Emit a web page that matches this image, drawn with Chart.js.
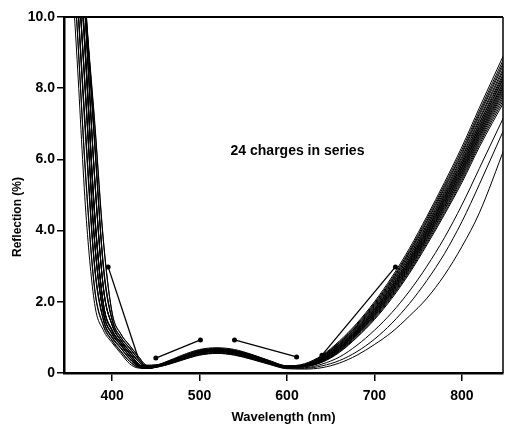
<!DOCTYPE html>
<html>
<head>
<meta charset="utf-8">
<script src="https://cdn.jsdelivr.net/npm/chart.js@4"></script>
<style>
  html, body { margin: 0; padding: 0; background: #fff; }
  canvas { display: block; }
</style>
</head>
<body>
<canvas id="reflection-chart" width="507" height="427"></canvas>
<script>
// wavelengths (nm) shared by all 24 charges
const wavelengths = [350, 360, 370, 380, 390, 400, 410, 420, 430, 440,
  460, 480, 500, 520, 540, 560, 580, 600, 620,
  640, 660, 680, 700, 720, 740, 760, 780, 800, 820, 850];

// reflection (%) of each charge
const c1 = [12.8, 8.8, 4.5, 1.95, 1.2, 0.85, 0.55, 0.26, 0.14, 0.13, 0.22, 0.38, 0.52, 0.57, 0.53, 0.41, 0.27, 0.15, 0.19, 0.40, 0.74, 1.20, 1.75, 2.40, 3.15, 4.00, 4.90, 5.85, 6.90, 8.38];
const c2 = [13.9, 9.75, 5.5, 2.4, 1.35, 0.92, 0.62, 0.33, 0.16, 0.13, 0.24, 0.41, 0.56, 0.61, 0.56, 0.44, 0.29, 0.17, 0.23, 0.46, 0.84, 1.32, 1.90, 2.58, 3.36, 4.24, 5.17, 6.15, 7.23, 8.78];
const c3 = [13.8, 9.7, 5.4, 2.35, 1.32, 0.9, 0.6, 0.32, 0.16, 0.14, 0.25, 0.43, 0.58, 0.63, 0.58, 0.46, 0.31, 0.17, 0.18, 0.32, 0.62, 1.05, 1.56, 2.17, 2.88, 3.70, 4.56, 5.47, 6.48, 7.86];
const c4 = [15.0, 10.7, 6.6, 3.0, 1.5, 1.0, 0.7, 0.4, 0.18, 0.13, 0.26, 0.44, 0.6, 0.65, 0.6, 0.47, 0.31, 0.18, 0.22, 0.42, 0.78, 1.25, 1.81, 2.47, 3.23, 4.10, 5.01, 5.97, 7.03, 8.54];
const c5 = [15.1, 10.8, 6.7, 3.05, 1.52, 1.02, 0.71, 0.41, 0.19, 0.14, 0.25, 0.42, 0.57, 0.62, 0.57, 0.45, 0.3, 0.17, 0.2, 0.36, 0.68, 1.12, 1.65, 2.28, 3.01, 3.84, 4.72, 5.65, 6.68, 8.11];
const c6 = [14.9, 10.6, 6.5, 2.95, 1.48, 0.98, 0.69, 0.39, 0.18, 0.13, 0.21, 0.36, 0.5, 0.55, 0.5, 0.38, 0.24, 0.12, 0.11, 0.15, 0.28, 0.5, 0.8, 1.15, 1.6, 2.1, 2.75, 3.55, 4.5, 6.4];
const c7 = [16.1, 11.75, 7.7, 3.7, 1.7, 1.1, 0.78, 0.47, 0.21, 0.14, 0.27, 0.45, 0.61, 0.66, 0.61, 0.48, 0.32, 0.19, 0.24, 0.48, 0.87, 1.37, 1.96, 2.65, 3.44, 4.34, 5.28, 6.27, 7.36, 8.94];
const c8 = [16.0, 11.7, 7.6, 3.65, 1.68, 1.08, 0.77, 0.46, 0.2, 0.13, 0.24, 0.41, 0.56, 0.61, 0.56, 0.44, 0.29, 0.16, 0.2, 0.38, 0.70, 1.15, 1.69, 2.33, 3.07, 3.90, 4.79, 5.73, 6.77, 8.21];
const c9 = [16.2, 11.8, 7.75, 3.75, 1.72, 1.12, 0.79, 0.48, 0.22, 0.14, 0.28, 0.47, 0.63, 0.68, 0.63, 0.5, 0.33, 0.19, 0.23, 0.45, 0.81, 1.29, 1.87, 2.54, 3.31, 4.18, 5.11, 6.08, 7.15, 8.69];
const c10 = [16.1, 11.7, 7.65, 3.7, 1.7, 1.1, 0.78, 0.47, 0.21, 0.14, 0.23, 0.39, 0.53, 0.58, 0.53, 0.41, 0.27, 0.15, 0.15, 0.25, 0.45, 0.78, 1.2, 1.7, 2.3, 3.0, 3.8, 4.72, 5.75, 7.3];
const c11 = [17.2, 12.8, 8.8, 4.5, 1.95, 1.2, 0.85, 0.55, 0.26, 0.14, 0.26, 0.44, 0.6, 0.65, 0.6, 0.47, 0.31, 0.18, 0.23, 0.47, 0.85, 1.34, 1.93, 2.61, 3.40, 4.28, 5.22, 6.20, 7.29, 8.85];
const c12 = [17.1, 12.7, 8.7, 4.45, 1.93, 1.19, 0.84, 0.54, 0.25, 0.15, 0.27, 0.45, 0.61, 0.66, 0.61, 0.48, 0.32, 0.18, 0.21, 0.39, 0.72, 1.18, 1.73, 2.37, 3.12, 3.96, 4.86, 5.80, 6.85, 8.31];
const c13 = [17.3, 12.9, 8.9, 4.55, 1.97, 1.22, 0.86, 0.56, 0.27, 0.15, 0.25, 0.42, 0.57, 0.62, 0.57, 0.45, 0.3, 0.17, 0.19, 0.34, 0.65, 1.09, 1.61, 2.23, 2.95, 3.78, 4.65, 5.57, 6.59, 8.00];
const c14 = [17.2, 12.75, 8.75, 4.5, 1.94, 1.2, 0.85, 0.55, 0.26, 0.14, 0.29, 0.48, 0.64, 0.69, 0.64, 0.51, 0.34, 0.2, 0.22, 0.42, 0.77, 1.23, 1.79, 2.45, 3.21, 4.06, 4.97, 5.93, 6.99, 8.48];
const c15 = [17.0, 12.6, 8.6, 4.4, 1.9, 1.18, 0.83, 0.53, 0.25, 0.14, 0.22, 0.37, 0.51, 0.56, 0.51, 0.39, 0.25, 0.13, 0.13, 0.2, 0.35, 0.6, 0.95, 1.4, 1.95, 2.6, 3.35, 4.25, 5.3, 6.95];
const c16 = [18.3, 13.9, 9.75, 5.5, 2.4, 1.35, 0.92, 0.62, 0.33, 0.16, 0.27, 0.45, 0.61, 0.66, 0.61, 0.48, 0.32, 0.18, 0.22, 0.44, 0.80, 1.27, 1.84, 2.51, 3.28, 4.14, 5.06, 6.03, 7.10, 8.62];
const c17 = [18.2, 13.8, 9.7, 5.45, 2.38, 1.34, 0.91, 0.61, 0.32, 0.17, 0.26, 0.43, 0.58, 0.63, 0.58, 0.46, 0.31, 0.17, 0.2, 0.37, 0.69, 1.14, 1.67, 2.30, 3.04, 3.87, 4.76, 5.69, 6.72, 8.16];
const c18 = [18.4, 14.0, 9.8, 5.55, 2.42, 1.36, 0.93, 0.63, 0.34, 0.17, 0.24, 0.4, 0.55, 0.6, 0.55, 0.43, 0.28, 0.16, 0.18, 0.31, 0.60, 1.02, 1.53, 2.14, 2.84, 3.65, 4.50, 5.41, 6.42, 7.78];
const c19 = [18.3, 13.85, 9.72, 5.5, 2.4, 1.35, 0.92, 0.62, 0.33, 0.16, 0.3, 0.5, 0.66, 0.71, 0.66, 0.52, 0.35, 0.2, 0.22, 0.41, 0.75, 1.21, 1.77, 2.42, 3.17, 4.02, 4.93, 5.88, 6.93, 8.42];
const c20 = [17.6, 14.0, 10.2, 6.5, 3.0, 1.5, 1.0, 0.7, 0.4, 0.18, 0.28, 0.46, 0.62, 0.67, 0.62, 0.5, 0.34, 0.2, 0.26, 0.50, 0.90, 1.40, 2.00, 2.70, 3.50, 4.40, 5.35, 6.35, 7.45, 9.05];
const c21 = [17.5, 13.9, 10.1, 6.4, 2.95, 1.48, 0.99, 0.69, 0.39, 0.18, 0.26, 0.44, 0.59, 0.64, 0.59, 0.47, 0.31, 0.18, 0.2, 0.35, 0.66, 1.10, 1.63, 2.26, 2.98, 3.81, 4.68, 5.61, 6.64, 8.05];
const c22 = [17.7, 14.1, 10.3, 6.6, 3.05, 1.52, 1.01, 0.71, 0.41, 0.19, 0.27, 0.45, 0.6, 0.65, 0.6, 0.48, 0.32, 0.18, 0.21, 0.38, 0.71, 1.17, 1.71, 2.35, 3.09, 3.94, 4.83, 5.77, 6.81, 8.27];
const c23 = [16.6, 13.3, 10.1, 7.1, 3.75, 1.7, 1.1, 0.78, 0.47, 0.21, 0.26, 0.43, 0.58, 0.63, 0.58, 0.46, 0.31, 0.17, 0.19, 0.33, 0.63, 1.07, 1.59, 2.20, 2.92, 3.74, 4.60, 5.52, 6.54, 7.93];
const c24 = [16.5, 13.2, 10.0, 7.0, 3.7, 1.68, 1.09, 0.77, 0.46, 0.22, 0.27, 0.44, 0.59, 0.64, 0.59, 0.47, 0.31, 0.17, 0.18, 0.30, 0.58, 1.00, 1.50, 2.10, 2.80, 3.60, 4.45, 5.35, 6.35, 7.70];

const charges = [c1, c2, c3, c4, c5, c6, c7, c8, c9, c10, c11, c12,
  c13, c14, c15, c16, c17, c18, c19, c20, c21, c22, c23, c24];

// pointer lines drawn on the plot: [wavelength, reflection] end points
const pointerLeft = [[395.5, 2.98], [429.5, 0.45]];
const pointerBumpUp = [[450, 0.42], [501, 0.93]];
const pointerBumpDown = [[540, 0.93], [611, 0.45]];
const pointerRight = [[640, 0.5], [724, 2.98]];

const xTicks = [400, 500, 600, 700, 800];
const yTicks = [0, 2, 4, 6, 8, 10];

const noteText = '24 charges in series';
const notePos = [612, 6.24];

const fontFamily = '"Liberation Sans", Arial, Helvetica, sans-serif';

// draws the box round the plot, the y title and the note
const framePlugin = {
  id: 'frame',
  afterDraw(chart) {
    const ctx = chart.ctx;
    const a = chart.chartArea;
    ctx.save();
    ctx.strokeStyle = '#000';
    ctx.lineWidth = 2;
    ctx.beginPath();
    ctx.moveTo(a.left, a.top);
    ctx.lineTo(a.right, a.top);
    ctx.stroke();
    ctx.lineWidth = 1.5;
    ctx.beginPath();
    ctx.moveTo(a.right, a.top);
    ctx.lineTo(a.right, a.bottom);
    ctx.stroke();

    ctx.fillStyle = '#000';
    ctx.font = 'bold 14px ' + fontFamily;
    ctx.textAlign = 'center';
    ctx.textBaseline = 'middle';
    ctx.fillText(noteText,
      chart.scales.x.getPixelForValue(notePos[0]),
      chart.scales.y.getPixelForValue(notePos[1]));

    ctx.translate(18, 217);
    ctx.rotate(-Math.PI / 2);
    ctx.font = 'bold 12px ' + fontFamily;
    ctx.fillText('Reflection (%)', 0, 0);
    ctx.restore();
  }
};

function pointerSet(pts, radii) {
  return {
    data: pts.map(p => ({ x: p[0], y: p[1] })),
    borderColor: '#000',
    backgroundColor: '#000',
    borderWidth: 1.3,
    pointRadius: radii,
    pointBorderWidth: 0,
    tension: 0
  };
}

const datasets = charges.map((vals, i) => ({
  label: 'charge ' + (i + 1),
  data: wavelengths.map((w, j) => ({ x: w, y: vals[j] })),
  borderColor: '#000',
  borderWidth: 1,
  pointRadius: 0,
  cubicInterpolationMode: 'monotone',
  clip: 0
}));

datasets.push(pointerSet(pointerLeft, [2.5, 1]));
datasets.push(pointerSet(pointerBumpUp, [2.5, 2.5]));
datasets.push(pointerSet(pointerBumpDown, [2.5, 2.5]));
datasets.push(pointerSet(pointerRight, [2.5, 2.5]));

new Chart(document.getElementById('reflection-chart').getContext('2d'), {
  type: 'line',
  data: { datasets: datasets },
  options: {
    responsive: false,
    animation: false,
    devicePixelRatio: 1,
    layout: { padding: { top: 17, right: 2, left: 0, bottom: 0 } },
    plugins: {
      legend: { display: false },
      tooltip: { enabled: false }
    },
    scales: {
      x: {
        type: 'linear',
        min: 345,
        max: 847,
        afterBuildTicks: s => { s.ticks = xTicks.map(v => ({ value: v })); },
        afterFit: s => { s.height = 54; },
        ticks: {
          color: '#000',
          padding: 7,
          font: { family: fontFamily, size: 14, weight: 'bold' }
        },
        grid: {
          drawOnChartArea: false,
          drawTicks: true,
          tickLength: 8,
          color: '#000',
          lineWidth: 1.5
        },
        border: { color: '#000', width: 2.5 },
        title: {
          display: true,
          text: 'Wavelength (nm)',
          color: '#000',
          padding: { top: 0, bottom: 2 },
          font: { family: fontFamily, size: 13, weight: 'bold' }
        }
      },
      y: {
        type: 'linear',
        min: 0,
        max: 10,
        afterBuildTicks: s => { s.ticks = yTicks.map(v => ({ value: v })); },
        afterFit: s => { s.width = 64; },
        ticks: {
          color: '#000',
          padding: 2,
          font: { family: fontFamily, size: 14, weight: 'bold' },
          callback: v => v === 0 ? '0' : v.toFixed(1)
        },
        grid: {
          drawOnChartArea: false,
          drawTicks: true,
          tickLength: 7,
          color: '#000',
          lineWidth: 1.5
        },
        border: { color: '#000', width: 2.5 }
      }
    }
  },
  plugins: [framePlugin]
});
</script>
</body>
</html>
